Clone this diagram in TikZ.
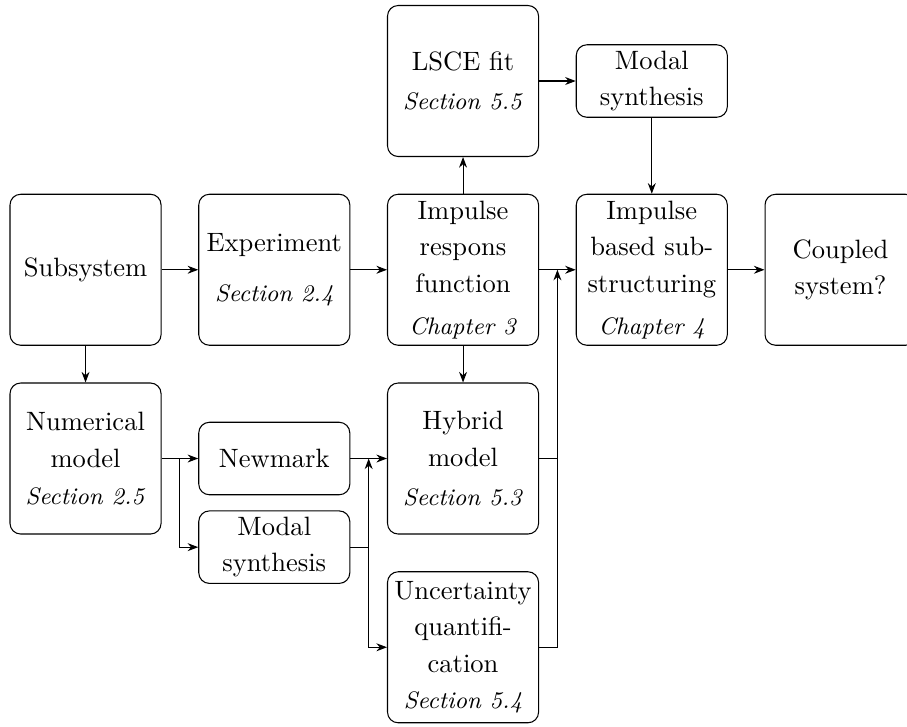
\documentclass[tikz,border=0pt]{standalone}
\usepackage{tikz}
\usetikzlibrary{arrows.meta, calc, positioning}

\newcommand{\sectxt}[1]{{\small\textit{#1}}}

\begin{document}
\begin{tikzpicture}[
  box/.style={draw, rounded corners=4pt, text width=1.86cm, inner sep=2pt,
    minimum height=2cm, align=center, font=\linespread{1.15}\selectfont},
  smallbox/.style={draw, rounded corners=4pt, text width=1.86cm, inner sep=2pt,
    minimum height=0.96cm, align=center, font=\linespread{1.15}\selectfont},
  link/.style={-{Stealth[length=4pt,width=3pt]}}
]
\useasboundingbox (-1.133,-6.043) rectangle (10.88,3.573);
% main row
\node[box] (sub) at (0,0) {Subsystem};
\node[box] (exp) at (2.5,0) {Experiment\\[5pt]\sectxt{Section 2.4}};
\node[box] (irf) at (5,0) {Impulse respons function\\[2pt]\sectxt{Chapter 3}};
\node[box] (ibs) at (7.5,0) {Impulse based substructuring\\[2pt]\sectxt{Chapter 4}};
\node[box] (cpl) at (10,0) {Coupled system?};
% top row
\node[box] (lsce) at (5,2.5) {LSCE fit\\[1pt]\sectxt{Section 5.5}};
\node[smallbox] (modt) at (7.5,2.5) {Modal synthesis};
% lower rows
\node[box] (num) at (0,-2.5) {Numerical model\\\sectxt{Section 2.5}};
\node[smallbox] (newm) at (2.5,-2.5) {Newmark};
\node[smallbox, below=0.2cm of newm] (modl) {Modal synthesis};
\node[box] (hyb) at (5,-2.5) {Hybrid model\\[1pt]\sectxt{Section 5.3}};
\node[box] (uq) at (5,-5) {Uncertainty quantification\\\sectxt{Section 5.4}};
% junctions
\coordinate (j1) at ($(num.east)!0.5!(newm.west)$);
\coordinate (j2) at ($(newm.east)!0.5!(hyb.west)$);
\coordinate (j3) at ($(irf.east)!0.5!(ibs.west)$);
% connectors
\draw[link] (sub) -- (exp);
\draw[link] (exp) -- (irf);
\draw[link] (irf) -- (ibs);
\draw[link] (ibs) -- (cpl);
\draw[link] (sub) -- (num);
\draw[link] (irf) -- (lsce);
\draw[link] (lsce) -- (modt);
\draw[link] (modt) -- (modt |- ibs.north);
\draw[link] (irf) -- (hyb);
\draw[link] (num) -- (newm);
\draw[link] (j1) |- (modl);
\draw[link] (newm) -- (hyb);
\draw[link] (modl.east) -| (j2);
\draw[link] (j2 |- modl.east) |- (uq);
\draw (hyb.east) -- (hyb.east -| j3);
\draw[link] (uq.east) -| (j3);
\end{tikzpicture}
\end{document}
